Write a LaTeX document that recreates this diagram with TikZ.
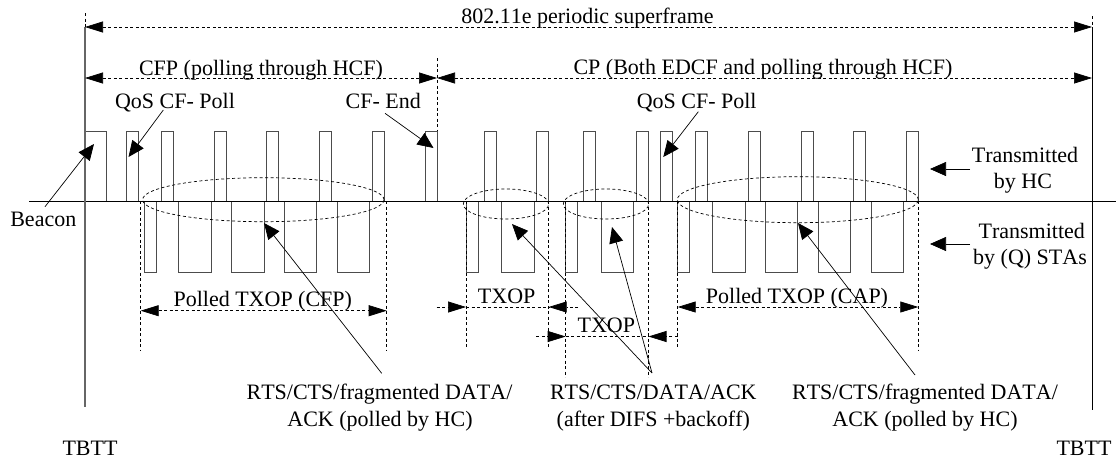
\documentclass[tikz,border=0pt]{standalone}
\usepackage{fontspec}
\setmainfont[Kerning=Off]{Liberation Serif}
\usetikzlibrary{arrows.meta}
\begin{document}
\begin{tikzpicture}[x=1pt,y=-1pt,
  txt/.style={font=\fontsize{22}{26}\selectfont, inner sep=0pt, anchor=base},
  pulse/.style={draw=black!70, line width=0.9pt},
  dim/.style={line width=0.7pt, dash pattern=on 3pt off 2.5pt},
  dtip/.style={-{Triangle[length=18pt,width=11pt]}},
  dboth/.style={{Triangle[length=18pt,width=11pt]}-{Triangle[length=18pt,width=11pt]}},
  ptr/.style={line width=0.7pt, -{Triangle[length=16pt,width=14pt]}}]
\useasboundingbox (0,0) rectangle (1116,459);

% pulses transmitted by HC
\draw[pulse] (85,201) rectangle (106,131);
\foreach \x in {126,161.3,214,266.7,319.3,372,425.7,484,536.7,583.7,636.7,660.3,695.3,748.3,801,853.7,906.7}
  \draw[pulse] (\x,201) rectangle ++(12,-70);
% pulses transmitted by STAs
\foreach \x in {144,466,565.7,677.7}
  \draw[pulse] (\x,201) rectangle ++(12,71);
\foreach \x in {178.7,231.7,284.3,337.3,501.7,601.3,712.7,765.3,818.3,871.3}
  \draw[pulse] (\x,201) rectangle ++(32.5,71);

% time axis and TBTT lines
\draw[line width=0.8pt] (29,201) -- (1116,201);
\draw[dim] (85,13) -- (85,27);
\draw[line width=1.3pt, black!60] (85,27) -- (85,407);
\draw[dim] (1092,16) -- (1092,27);
\draw[line width=0.9pt] (1092,27) -- (1092,410);
\draw[dim] (437,58) -- (437,131);

% superframe dimension arrows
\coordinate (sfL) at (85,27);
\coordinate (sfR) at (1092,27);
\coordinate (cfpL) at (85,78);
\coordinate (mid) at (437,78);
\coordinate (cpR) at (1092,78);
\draw[dim,dboth] (sfL) -- (sfR);
\draw[dim,dboth] (cfpL) -- (mid);
\draw[dim,dboth] (mid) -- (cpR);

% ellipses
\draw[dim] (263.3,199.7) ellipse [x radius=120.7pt, y radius=22pt];
\draw[dim] (506,204) ellipse [x radius=42.7pt, y radius=15pt];
\draw[dim] (606,204) ellipse [x radius=42.7pt, y radius=15pt];
\draw[dim] (797.8,199.7) ellipse [x radius=120.5pt, y radius=23pt];

% dashed verticals
\foreach \x/\y in {140.7/350,386.7/350,466/348,548.7/348,565.7/377,648.5/377,677.7/348,918.3/350}
  \draw[dim] (\x,201) -- (\x,\y);

% TXOP dimension arrows
\draw[dim,dboth] (140.7,310.7) -- (386.7,310.7);
\draw[dim,dboth] (677.7,307) -- (918.3,307);
\draw[dim,dtip] (436.7,307) -- (466,307);
\draw[dim] (466,307) -- (548.7,307);
\draw[dim,dtip] (578,307) -- (548.7,307);
\draw[dim,dtip] (536.4,336.5) -- (565.7,336.5);
\draw[dim] (565.7,336.5) -- (648.5,336.5);
\draw[dim,dtip] (677.7,336.5) -- (648.5,336.5);

% texts
\node[txt] (title) at (587.5,23) {802.11e periodic superframe};
\node[txt] (cfp) at (261,75) {CFP (polling through HCF)};
\node[txt] (cp) at (763,74) {CP (Both EDCF and polling through HCF)};
\node[txt] (qos1) at (175,108) {QoS CF- Poll};
\node[txt] (cfend) at (383.3,108) {CF- End};
\node[txt] (qos2) at (696.7,108) {QoS CF- Poll};
\node[txt] (beacon) at (43.3,226.7) {Beacon};
\node[txt] (hc1) at (1025,162.7) {Transmitted};
\node[txt] (hc2) at (1023,188) {by HC};
\node[txt] (sta1) at (1031.7,238.3) {Transmitted};
\node[txt] (sta2) at (1030,264) {by (Q) STAs};
\node[txt] (ptcfp) at (262.8,306) {Polled TXOP (CFP)};
\node[txt] (txop1) at (506.7,303.3) {TXOP};
\node[txt] (txop2) at (606.3,332.3) {TXOP};
\node[txt] (ptcap) at (797,303.3) {Polled TXOP (CAP)};
\node[txt] (rtsL1) at (379.5,399.5) {RTS/CTS/fragmented DATA/};
\node[txt] (rtsL2) at (380,426.5) {ACK (polled by HC)};
\node[txt] (rtsM1) at (653.3,399.5) {RTS/CTS/DATA/ACK};
\node[txt] (rtsM2) at (653.3,426) {(after DIFS +backoff)};
\node[txt] (rtsR1) at (925,399.5) {RTS/CTS/fragmented DATA/};
\node[txt] (rtsR2) at (925,426.5) {ACK (polled by HC)};
\node[txt] (tbttL) at (90,455) {TBTT};
\node[txt] (tbttR) at (1084,455) {TBTT};

% pointer arrows
\coordinate (q1s) at (163.3,110);   \coordinate (q1t) at (128.5,157);
\coordinate (ces) at (385,113.3);   \coordinate (cet) at (433.5,148);
\coordinate (q2s) at (698.3,111.7); \coordinate (q2t) at (663.3,157);
\coordinate (bcs) at (45,206.7);    \coordinate (bct) at (94,144);
\coordinate (hcs) at (970,169);     \coordinate (hct) at (930,169);
\coordinate (sts) at (970,244);     \coordinate (stt) at (930,244);
\coordinate (rLs) at (381.7,373.3); \coordinate (rLt) at (264,223);
\coordinate (rMs) at (652,373);     \coordinate (rMt1) at (512,224); \coordinate (rMt2) at (612,227);
\coordinate (rRs) at (915,375);     \coordinate (rRt) at (798,223);
\draw[ptr] (q1s) -- (q1t);
\draw[ptr] (ces) -- (cet);
\draw[ptr] (q2s) -- (q2t);
\draw[ptr] (bcs) -- (bct);
\draw[ptr] (hcs) -- (hct);
\draw[ptr] (sts) -- (stt);
\draw[ptr] (rLs) -- (rLt);
\draw[ptr] (rMs) -- (rMt1);
\draw[ptr] (rMs) -- (rMt2);
\draw[ptr] (rRs) -- (rRt);
\end{tikzpicture}
\end{document}
